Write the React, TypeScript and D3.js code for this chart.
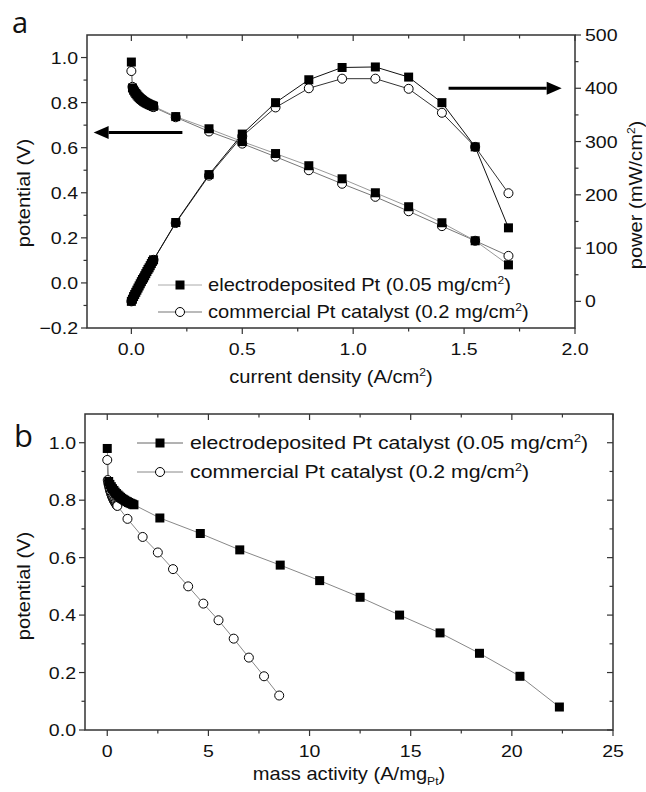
import React from "react";
import * as d3 from "d3";

// current density (A/cm2), shared by both catalysts
const currentDensity = [0, 0.005, 0.01, 0.015, 0.02, 0.025, 0.03, 0.035, 0.04, 0.045, 0.05, 0.055, 0.06, 0.065, 0.07, 0.075, 0.08, 0.085, 0.09, 0.095, 0.1, 0.2, 0.35, 0.5, 0.65, 0.8, 0.95, 1.1, 1.25, 1.4, 1.55, 1.7];

// potential (V)
const potentialDep = [0.98, 0.865, 0.855, 0.847, 0.84, 0.834, 0.828, 0.823, 0.818, 0.814, 0.81, 0.806, 0.803, 0.8, 0.797, 0.795, 0.792, 0.79, 0.788, 0.786, 0.784, 0.738, 0.684, 0.627, 0.574, 0.52, 0.462, 0.4, 0.338, 0.267, 0.187, 0.08];
const potentialCom = [0.94, 0.87, 0.86, 0.852, 0.845, 0.838, 0.832, 0.826, 0.821, 0.816, 0.812, 0.808, 0.804, 0.8, 0.797, 0.794, 0.791, 0.788, 0.785, 0.782, 0.78, 0.735, 0.672, 0.618, 0.56, 0.5, 0.44, 0.382, 0.318, 0.252, 0.187, 0.12];

// power (mW/cm2)
const powerDep = [0, 4, 9, 13, 17, 21, 25, 29, 33, 37, 41, 44, 48, 52, 56, 60, 63, 67, 71, 75, 78, 148, 238, 314, 373, 416, 439, 440, 421, 373, 290, 138];
const powerCom = [0, 4, 9, 13, 17, 21, 25, 29, 33, 37, 41, 44, 48, 52, 56, 60, 63, 67, 71, 74, 78, 147, 236, 310, 364, 400, 418, 418, 399, 354, 290, 203];

// mass activity (A/mgPt)
const massDep = [0, 0.07, 0.13, 0.2, 0.26, 0.33, 0.39, 0.46, 0.53, 0.59, 0.66, 0.72, 0.79, 0.86, 0.92, 0.99, 1.05, 1.12, 1.18, 1.25, 1.32, 2.6, 4.6, 6.55, 8.55, 10.5, 12.5, 14.45, 16.45, 18.4, 20.4, 22.35];
const massCom = [0, 0.025, 0.05, 0.075, 0.1, 0.125, 0.15, 0.175, 0.2, 0.225, 0.25, 0.275, 0.3, 0.325, 0.35, 0.375, 0.4, 0.425, 0.45, 0.475, 0.5, 1.0, 1.75, 2.5, 3.25, 4.0, 4.75, 5.5, 6.25, 7.0, 7.75, 8.5];

// tick values
const topXTicks = [0, 0.5, 1.0, 1.5, 2.0];
const topYTicks = [-0.2, 0, 0.2, 0.4, 0.6, 0.8, 1.0];
const powerTicks = [0, 100, 200, 300, 400, 500];
const botXTicks = [0, 5, 10, 15, 20, 25];
const botYTicks = [0, 0.2, 0.4, 0.6, 0.8, 1.0];

const FONT = "'Liberation Sans', Arial, sans-serif";
const SX = 1.15;
const AXIS = "#333";

const Txt = ({ x, y, size, anchor = "start", rotate = 0, children }: any) => (
  <g transform={`translate(${x},${y})${rotate ? ` rotate(${rotate})` : ""} scale(${SX},1)`}>
    <text textAnchor={anchor} fontSize={size} fontFamily={FONT} fill="#111">
      {children}
    </text>
  </g>
);

const Sq = ({ x, y }: any) => <rect x={x - 4.5} y={y - 4.5} width={9} height={9} fill="#000" />;
const Circ = ({ x, y }: any) => <circle cx={x} cy={y} r={4.5} fill="#fff" stroke="#000" strokeWidth={1} />;

// minor ticks halfway between majors, inside the domain
const minors = (ticks: number[], dom: number[]) => {
  const step = ticks[1] - ticks[0];
  const out: number[] = [];
  for (let i = -1; i < ticks.length; i++) {
    const v = ticks[0] + step * (i + 0.5);
    if (v > Math.min(...dom) && v < Math.max(...dom)) out.push(v);
  }
  return out;
};

const XTicks = ({ scale, ticks, y, dir }: any) => (
  <g stroke={AXIS} strokeWidth={1.2}>
    {ticks.map((t: number) => (
      <line key={"M" + t} x1={scale(t)} x2={scale(t)} y1={y} y2={y + dir * 6} />
    ))}
    {minors(ticks, scale.domain()).map((t) => (
      <line key={"m" + t} x1={scale(t)} x2={scale(t)} y1={y} y2={y + dir * 3.5} />
    ))}
  </g>
);

const YTicks = ({ scale, ticks, x, dir }: any) => (
  <g stroke={AXIS} strokeWidth={1.2}>
    {ticks.map((t: number) => (
      <line key={"M" + t} y1={scale(t)} y2={scale(t)} x1={x} x2={x + dir * 6} />
    ))}
    {minors(ticks, scale.domain()).map((t) => (
      <line key={"m" + t} y1={scale(t)} y2={scale(t)} x1={x} x2={x + dir * 3.5} />
    ))}
  </g>
);

const Arrow = ({ x1, x2, y }: any) => {
  const d = x2 < x1 ? -1 : 1;
  const tipBase = x2 - d * 15;
  return (
    <g>
      <line x1={x1} x2={tipBase} y1={y} y2={y} stroke="#000" strokeWidth={3} />
      <path d={`M${x2},${y} L${tipBase},${y - 6.5} L${tipBase},${y + 6.5} Z`} fill="#000" />
    </g>
  );
};

export default function App() {
  const f1 = d3.format(".1f");

  // panel a
  const xA = d3.scaleLinear().domain([-0.2, 2.0]).range([87, 575]);
  const yA = d3.scaleLinear().domain([-0.2, 1.1]).range([328, 35]);
  const yP = d3.scaleLinear().domain([-50, 500]).range([328, 35]);

  const idx = currentDensity.map((_, i) => i);
  const lineV = (v: number[]) =>
    d3.line<number>().x((i) => xA(currentDensity[i])).y((i) => yA(v[i]))(idx) as string;
  const lineP = (p: number[]) =>
    d3.line<number>().x((i) => xA(currentDensity[i])).y((i) => yP(p[i]))(idx) as string;

  // panel b
  const xB = d3.scaleLinear().domain([-1.1, 25]).range([85, 613]);
  const yB = d3.scaleLinear().domain([0, 1.1]).range([730, 414]);
  const lineM = (m: number[], v: number[]) =>
    d3.line<number>().x((i) => xB(m[i])).y((i) => yB(v[i]))(idx) as string;

  const [a0, a1] = xA.range();
  const [b0, b1] = xB.range();

  return (
    <svg width={646} height={792} style={{ position: "absolute", left: 0, top: 0, background: "#fff" }}>
      {/* ---------- panel a ---------- */}
      <text x={12} y={33} fontSize={29} fontFamily="'Open Sans', sans-serif" fill="#111">a</text>

      <path d={lineV(potentialCom)} fill="none" stroke="#777" strokeWidth={1} />
      <path d={lineV(potentialDep)} fill="none" stroke="#999" strokeWidth={1} />
      <path d={lineP(powerCom)} fill="none" stroke="#333" strokeWidth={1} />
      <path d={lineP(powerDep)} fill="none" stroke="#111" strokeWidth={1} />
      {idx.map((i) => <Circ key={"vc" + i} x={xA(currentDensity[i])} y={yA(potentialCom[i])} />)}
      {idx.map((i) => <Circ key={"pc" + i} x={xA(currentDensity[i])} y={yP(powerCom[i])} />)}
      {idx.map((i) => <Sq key={"vd" + i} x={xA(currentDensity[i])} y={yA(potentialDep[i])} />)}
      {idx.map((i) => <Sq key={"pd" + i} x={xA(currentDensity[i])} y={yP(powerDep[i])} />)}

      <Arrow x1={xA(0.23)} x2={xA(-0.17)} y={yA(0.667)} />
      <Arrow x1={xA(1.43)} x2={xA(1.94)} y={yP(400)} />

      <rect x={a0} y={35} width={a1 - a0} height={293} fill="none" stroke={AXIS} strokeWidth={1.5} />
      <XTicks scale={xA} ticks={topXTicks} y={328} dir={1} />
      <XTicks scale={xA} ticks={topXTicks} y={35} dir={1} />
      <YTicks scale={yA} ticks={topYTicks} x={a0} dir={-1} />
      <YTicks scale={yP} ticks={powerTicks} x={a1} dir={1} />

      {topXTicks.map((t) => <Txt key={"ax" + t} x={xA(t)} y={355} size={17} anchor="middle">{f1(t)}</Txt>)}
      {topYTicks.map((t) => <Txt key={"ay" + t} x={78} y={yA(t) + 6} size={17} anchor="end">{f1(t)}</Txt>)}
      {powerTicks.map((t) => <Txt key={"ap" + t} x={585} y={yP(t) + 6} size={17}>{t}</Txt>)}

      <Txt x={(a0 + a1) / 2} y={383} size={17.5} anchor="middle">
        current density (A/cm<tspan dy={-7} fontSize={10.5}>2</tspan><tspan dy={7}>)</tspan>
      </Txt>
      <Txt x={30} y={193} size={17.5} anchor="middle" rotate={-90}>potential (V)</Txt>
      <Txt x={642} y={195} size={17.5} anchor="middle" rotate={-90}>
        power (mW/cm<tspan dy={-7} fontSize={10.5}>2</tspan><tspan dy={7}>)</tspan>
      </Txt>

      {/* legend a */}
      <line x1={158} x2={202} y1={285} y2={285} stroke="#aaa" strokeWidth={1} />
      <Sq x={180} y={285} />
      <Txt x={208} y={291} size={17.5}>
        electrodeposited Pt (0.05 mg/cm<tspan dy={-7} fontSize={10.5}>2</tspan><tspan dy={7}>)</tspan>
      </Txt>
      <line x1={158} x2={202} y1={312} y2={312} stroke="#777" strokeWidth={1.2} />
      <Circ x={180} y={312} />
      <Txt x={208} y={318} size={17.5}>
        commercial Pt catalyst (0.2 mg/cm<tspan dy={-7} fontSize={10.5}>2</tspan><tspan dy={7}>)</tspan>
      </Txt>

      {/* ---------- panel b ---------- */}
      <text x={14} y={447} fontSize={31} fontFamily="'Open Sans', sans-serif" fill="#111">b</text>

      <path d={lineM(massCom, potentialCom)} fill="none" stroke="#888" strokeWidth={1} />
      <path d={lineM(massDep, potentialDep)} fill="none" stroke="#888" strokeWidth={1} />
      {idx.map((i) => <Circ key={"mc" + i} x={xB(massCom[i])} y={yB(potentialCom[i])} />)}
      {idx.map((i) => <Sq key={"md" + i} x={xB(massDep[i])} y={yB(potentialDep[i])} />)}

      <rect x={b0} y={414} width={b1 - b0} height={316} fill="none" stroke={AXIS} strokeWidth={1.5} />
      <XTicks scale={xB} ticks={botXTicks} y={730} dir={1} />
      <XTicks scale={xB} ticks={botXTicks} y={414} dir={1} />
      <YTicks scale={yB} ticks={botYTicks} x={b0} dir={-1} />
      <YTicks scale={yB} ticks={botYTicks} x={b1} dir={-1} />

      {botXTicks.map((t) => <Txt key={"bx" + t} x={xB(t)} y={757} size={17} anchor="middle">{t}</Txt>)}
      {botYTicks.map((t) => <Txt key={"by" + t} x={76} y={yB(t) + 6} size={17} anchor="end">{f1(t)}</Txt>)}

      <Txt x={(b0 + b1) / 2} y={780} size={17.5} anchor="middle">
        mass activity (A/mg<tspan dy={5} fontSize={10.5}>Pt</tspan><tspan dy={-5}>)</tspan>
      </Txt>
      <Txt x={30} y={586} size={17.5} anchor="middle" rotate={-90}>potential (V)</Txt>

      {/* legend b */}
      <line x1={137} x2={183} y1={443} y2={443} stroke="#666" strokeWidth={1} />
      <Sq x={160} y={443} />
      <Txt x={190} y={449} size={18.5}>
        electrodeposited Pt catalyst (0.05 mg/cm<tspan dy={-7} fontSize={11}>2</tspan><tspan dy={7}>)</tspan>
      </Txt>
      <line x1={137} x2={183} y1={472} y2={472} stroke="#888" strokeWidth={1} />
      <Circ x={160} y={472} />
      <Txt x={190} y={478} size={18.5}>
        commercial Pt catalyst (0.2 mg/cm<tspan dy={-7} fontSize={11}>2</tspan><tspan dy={7}>)</tspan>
      </Txt>
    </svg>
  );
}
